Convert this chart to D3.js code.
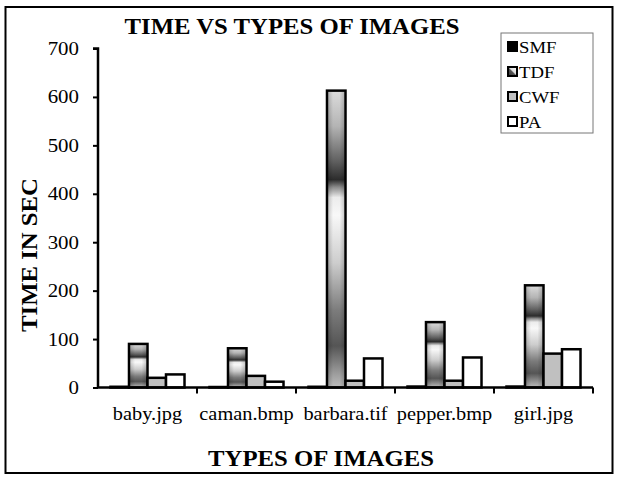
<!DOCTYPE html>
<html>
<head>
<meta charset="utf-8">
<script src="https://cdn.jsdelivr.net/npm/d3@7"></script>
<style>
  body { margin: 0; background: #fff; }
  svg { display: block; }
  text { font-family: "Liberation Serif", "Times New Roman", serif; fill: #000; }
</style>
</head>
<body>
<svg id="chart" width="620" height="477"></svg>
<script>
// Execution time (seconds) of each method per test image
const categories = ["baby.jpg", "caman.bmp", "barbara.tif", "pepper.bmp", "girl.jpg"];
const series = ["SMF", "TDF", "CWF", "PA"];
const smf = [1.5, 1, 1.5, 2, 2];
const tdf = [90, 81, 613, 135, 211];
const cwf = [20, 24, 14, 14, 70];
const pa  = [27, 12, 60, 62, 79];
const yTicks = [0, 100, 200, 300, 400, 500, 600, 700];

const values = { SMF: smf, TDF: tdf, CWF: cwf, PA: pa };
const rows = categories.map((c, i) => ({ cat: c, vals: series.map(s => ({ key: s, v: values[s][i] })) }));

const svg = d3.select("#chart");
const defs = svg.append("defs");

// Metallic gradient for TDF bars
const g = defs.append("linearGradient").attr("id", "tdfGrad")
  .attr("x1", 0).attr("y1", 0).attr("x2", 0).attr("y2", 1);
[
  [0, "#dcdcdc"], [0.12, "#b4b4b4"], [0.24, "#5e5e5e"], [0.30, "#2c2c2c"],
  [0.325, "#8a8a8a"], [0.36, "#ececec"], [0.42, "#f8f8f8"], [0.58, "#cdcdcd"],
  [0.74, "#7c7c7c"], [0.86, "#555555"], [0.95, "#9a9a9a"], [1, "#bdbdbd"]
].forEach(([o, c]) => g.append("stop").attr("offset", o).attr("stop-color", c));

// Side shading to give the bars a rounded look
const sg = defs.append("linearGradient").attr("id", "sideShade")
  .attr("x1", 0).attr("y1", 0).attr("x2", 1).attr("y2", 0);
[[0, "#000", 0.18], [0.3, "#000", 0], [0.7, "#000", 0], [1, "#000", 0.18]]
  .forEach(([o, c, a]) => sg.append("stop").attr("offset", o).attr("stop-color", c).attr("stop-opacity", a));

// Small diagonal gradient for the TDF legend swatch
const lgGrad = defs.append("linearGradient").attr("id", "legGrad")
  .attr("x1", 0).attr("y1", 1).attr("x2", 1).attr("y2", 0);
[[0, "#333"], [0.45, "#555"], [0.55, "#ddd"], [1, "#fff"]]
  .forEach(([o, c]) => lgGrad.append("stop").attr("offset", o).attr("stop-color", c));

const fills = { SMF: "#000", TDF: "url(#tdfGrad)", CWF: "#c0c0c0", PA: "#fff" };

// Outer frame
svg.append("rect").attr("x", 5.5).attr("y", 7).attr("width", 607).attr("height", 466)
  .attr("fill", "none").attr("stroke", "#000").attr("stroke-width", 2);

const x0 = d3.scaleBand().domain(categories).range([98, 593]).padding(0);
const x1 = d3.scaleBand().domain(series).range([0, x0.bandwidth()]).paddingInner(0).paddingOuter(0.675);
const y = d3.scaleLinear().domain([0, 700]).range([387.5, 48.5]);

// Horizontally widened text helper
function label(sel, x, yy, txt, opts) {
  return sel.append("text")
    .attr("transform", `translate(${x},${yy}) ${opts.rotate ? "rotate(-90)" : ""} scale(${opts.sx || 1.1},1)`)
    .attr("text-anchor", opts.anchor || "middle")
    .attr("font-size", opts.size)
    .attr("font-weight", opts.bold ? "bold" : "normal")
    .text(txt);
}

// Bars
const groups = svg.append("g").selectAll("g").data(rows).join("g")
  .attr("transform", d => `translate(${x0(d.cat)},0)`);
groups.selectAll("rect.bar").data(d => d.vals).join("rect")
  .attr("class", "bar")
  .attr("x", d => x1(d.key))
  .attr("y", d => y(d.v))
  .attr("width", x1.bandwidth())
  .attr("height", d => y(0) - y(d.v))
  .attr("fill", d => fills[d.key])
  .attr("stroke", "#000").attr("stroke-width", 2.5);
groups.selectAll("rect.shade").data(d => d.vals.filter(v => v.key === "TDF")).join("rect")
  .attr("class", "shade")
  .attr("x", d => x1(d.key) + 1.2)
  .attr("y", d => y(d.v) + 1.2)
  .attr("width", x1.bandwidth() - 2.4)
  .attr("height", d => Math.max(0, y(0) - y(d.v) - 2.4))
  .attr("fill", "url(#sideShade)");

// Y axis
const yAxis = svg.append("g").attr("transform", "translate(98,0)")
  .call(d3.axisLeft(y).tickValues(yTicks).tickSize(5).tickFormat(""));
yAxis.select(".domain").attr("stroke-width", 2.5).attr("d", `M-5,${y(700)}H0V${y(0)}`);
yAxis.selectAll(".tick line").attr("stroke-width", 2);
yTicks.forEach(t => label(svg, 79, y(t) + 6.5, String(t), { size: 19, anchor: "end" }));

// X axis
const xAxis = svg.append("g").attr("transform", `translate(0,${y(0)})`)
  .call(d3.axisBottom(x0).tickSize(0).tickFormat(""));
xAxis.select(".domain").attr("stroke-width", 2.5).attr("d", `M98,0H593`);
xAxis.selectAll(".tick").remove();
const bounds = categories.map(c => x0(c) + x0.bandwidth());
xAxis.selectAll("line.sep").data(bounds).join("line").attr("class", "sep")
  .attr("x1", d => d).attr("x2", d => d).attr("y1", 0).attr("y2", 6)
  .attr("stroke", "#000").attr("stroke-width", 2);
categories.forEach(c => label(svg, x0(c) + x0.bandwidth() / 2, 420, c, { size: 18.5 }));

// Titles
label(svg, 292, 34, "TIME VS TYPES OF IMAGES", { size: 22.5, bold: true });
label(svg, 321, 466, "TYPES OF IMAGES", { size: 22.5, bold: true });
label(svg, 37, 255, "TIME IN SEC", { size: 22.5, bold: true, rotate: true });

// Legend
const lg = svg.append("g");
lg.append("rect").attr("x", 501).attr("y", 33).attr("width", 92).attr("height", 100)
  .attr("fill", "#fff").attr("stroke", "#777").attr("stroke-width", 1);
series.forEach((s, i) => {
  const cy = 47 + i * 25;
  lg.append("rect").attr("x", 508).attr("y", cy - 5).attr("width", 9).attr("height", 9)
    .attr("fill", s === "TDF" ? "url(#legGrad)" : fills[s])
    .attr("stroke", "#000").attr("stroke-width", 2);
  label(lg, 519, cy + 6, s, { size: 17, anchor: "start" });
});
</script>
</body>
</html>
